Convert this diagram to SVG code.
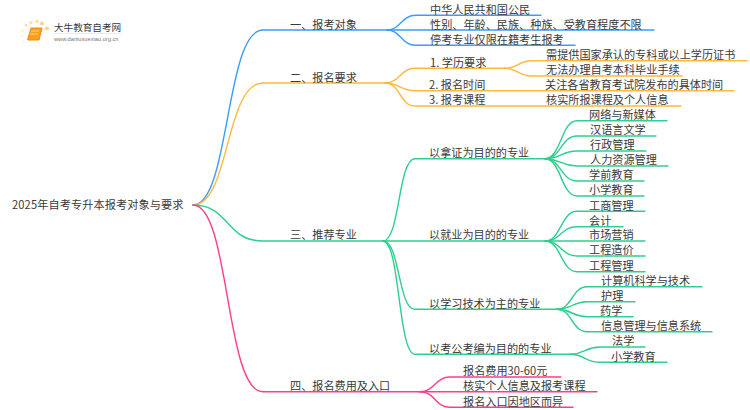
<svg xmlns="http://www.w3.org/2000/svg" width="750" height="410" viewBox="0 0 750 410">
<style>
text{font-family:"Noto Sans CJK SC","Noto Sans",sans-serif;font-size:11.15px;fill:#3a3a3a}
.c path{fill:none;stroke-width:1.4;stroke-linecap:round}
.b path{stroke:#3d9bff}.o path{stroke:#ffb93d}.g path{stroke:#2fcf8f}.p path{stroke:#ff3d8f}
</style>
<rect width="750" height="410" fill="#fff"/>
<g id="logo">
<circle cx="47" cy="28.500" r="2" fill="#fdd77c"/><circle cx="42" cy="23.500" r="2" fill="#fdd77c"/><circle cx="37" cy="21.500" r="1.800" fill="#fde29a"/><circle cx="31" cy="22.500" r="1.700" fill="#fde29a"/><circle cx="26" cy="25" r="1.500" fill="#fde29a"/><circle cx="22.500" cy="30.500" r="1.200" fill="#feeec4"/><circle cx="22" cy="36" r="1.100" fill="#feeec4"/><circle cx="23.500" cy="42" r="1" fill="#feeec4"/>
<path d="M31 28H42L39 40H27.500Z" fill="#f9a01b" stroke="#f28a10" stroke-width="1"/><path d="M31 31H39M30 34H38" stroke="#ffe0a0" stroke-width="0.800"/>
<text x="54" y="31" style="font-size:9.600px">大牛教育自考网</text>
<path d="M54 33.500H122" stroke="#ddd" stroke-width="0.600"/>
<text x="54" y="41" style="font-size:5.700px;fill:#777;font-family:'Liberation Sans',sans-serif">www.daniuxuexiao.org.cn</text>
</g>
<g id="connectors" class="c">
<g class="b">
<path d="M193 205C230 205 225 30 263 30H387"/>
<path d="M387 30C401 30 401 15.300 416 15.300H541"/><path d="M387 30H654"/><path d="M387 30C401 30 401 45.300 416 45.300H575"/>
</g>
<g class="o">
<path d="M193 205C230 205 225 83 263 83H385"/>
<path d="M385 83C400 83 400 68.300 415 68.300H505"/><path d="M385 83C400 83 400 90.700 415 90.700H734"/><path d="M385 83C400 83 400 106 415 106H681"/>
<path d="M505 68.300C518 68.300 518 60.700 532 60.700H747"/><path d="M505 68.300C518 68.300 518 76 532 76H682"/>
</g>
<g class="g">
<path d="M193 205C230 205 225 241 263 241H383"/>
<path d="M383 241C400 241 398 158.700 415 158.700H545"/><path d="M383 241H545"/><path d="M383 241C400 241 398 309.300 415 309.300H557"/><path d="M383 241C400 241 398 354.300 415 354.300H570"/>
<path d="M545 158.700C561 158.700 561 120.700 577 120.700H667"/><path d="M545 158.700C561 158.700 561 136 577 136H656"/><path d="M545 158.700C561 158.700 561 151 577 151H646"/><path d="M545 158.700C561 158.700 561 166 577 166H668"/><path d="M545 158.700C561 158.700 561 181 577 181H644"/><path d="M545 158.700C561 158.700 561 196 577 196H644"/>
<path d="M545 241C561 241 561 211.300 577 211.300H645"/><path d="M545 241C561 241 561 226.700 577 226.700H623"/><path d="M545 241H645"/><path d="M545 241C561 241 561 256 577 256H645"/><path d="M545 241C561 241 561 271.700 577 271.700H645"/>
<path d="M557 309.300C572 309.300 572 286.700 587 286.700H702"/><path d="M557 309.300C572 309.300 572 301.700 587 301.700H635"/><path d="M557 309.300C572 309.300 572 316.700 587 316.700H633"/><path d="M557 309.300C572 309.300 572 331.700 587 331.700H712"/>
<path d="M570 354.300C585 354.300 585 347 600 347H645"/><path d="M570 354.300C585 354.300 585 362.300 600 362.300H667"/>
</g>
<g class="p">
<path d="M193 205C230 205 225 391.700 263 391.700H420"/>
<path d="M420 391.700C435 391.700 435 377 450 377H561"/><path d="M420 391.700H597"/><path d="M420 391.700C435 391.700 435 407.300 450 407.300H573"/>
</g>
</g>
<g id="root"><text x="12" y="209" letter-spacing="0.120">2025年自考专升本报考对象与要求</text></g>
<g id="n1"><text x="290" y="28.500">一、报考对象</text></g>
<g id="n1-1"><text x="430" y="13.700">中华人民共和国公民</text></g>
<g id="n1-2"><text x="430" y="28.500">性别、年龄、民族、种族、受教育程度不限</text></g>
<g id="n1-3"><text x="430" y="43.700">停考专业仅限在籍考生报考</text></g>
<g id="n2"><text x="290" y="81.500">二、报名要求</text></g>
<g id="n2-1"><text x="430" y="66.700">1. 学历要求</text></g>
<g id="n2-1-1"><text x="546" y="59">需提供国家承认的专科或以上学历证书</text></g>
<g id="n2-1-2"><text x="546" y="74.400">无法办理自考本科毕业手续</text></g>
<g id="n2-2"><text x="429" y="89">2. 报名时间</text></g>
<g id="n2-2-1"><text x="545" y="89">关注各省教育考试院发布的具体时间</text></g>
<g id="n2-3"><text x="429" y="104.400">3. 报考课程</text></g>
<g id="n2-3-1"><text x="546" y="104.400">核实所报课程及个人信息</text></g>
<g id="n3"><text x="290" y="239.400">三、推荐专业</text></g>
<g id="n3-1"><text x="429" y="157">以拿证为目的的专业</text></g>
<g id="n3-1-1"><text x="589" y="119">网络与新媒体</text></g>
<g id="n3-1-2"><text x="590" y="134.400">汉语言文学</text></g>
<g id="n3-1-3"><text x="590" y="149.400">行政管理</text></g>
<g id="n3-1-4"><text x="590" y="164.400">人力资源管理</text></g>
<g id="n3-1-5"><text x="589" y="179.400">学前教育</text></g>
<g id="n3-1-6"><text x="589" y="194.400">小学教育</text></g>
<g id="n3-2"><text x="429" y="239.400">以就业为目的的专业</text></g>
<g id="n3-2-1"><text x="589" y="209.700">工商管理</text></g>
<g id="n3-2-2"><text x="589" y="225">会计</text></g>
<g id="n3-2-3"><text x="589" y="239.400">市场营销</text></g>
<g id="n3-2-4"><text x="589" y="254.400">工程造价</text></g>
<g id="n3-2-5"><text x="589" y="270">工程管理</text></g>
<g id="n3-3"><text x="429" y="307.700">以学习技术为主的专业</text></g>
<g id="n3-3-1"><text x="601" y="285">计算机科学与技术</text></g>
<g id="n3-3-2"><text x="601" y="300">护理</text></g>
<g id="n3-3-3"><text x="600" y="315">药学</text></g>
<g id="n3-3-4"><text x="601" y="330">信息管理与信息系统</text></g>
<g id="n3-4"><text x="429" y="352.700">以考公考编为目的的专业</text></g>
<g id="n3-4-1"><text x="612" y="345.400">法学</text></g>
<g id="n3-4-2"><text x="611" y="360.700">小学教育</text></g>
<g id="n4"><text x="290" y="390">四、报名费用及入口</text></g>
<g id="n4-1"><text x="463" y="375.400">报名费用30-60元</text></g>
<g id="n4-2"><text x="463" y="390">核实个人信息及报考课程</text></g>
<g id="n4-3"><text x="463" y="405.700">报名入口因地区而异</text></g>
</svg>
